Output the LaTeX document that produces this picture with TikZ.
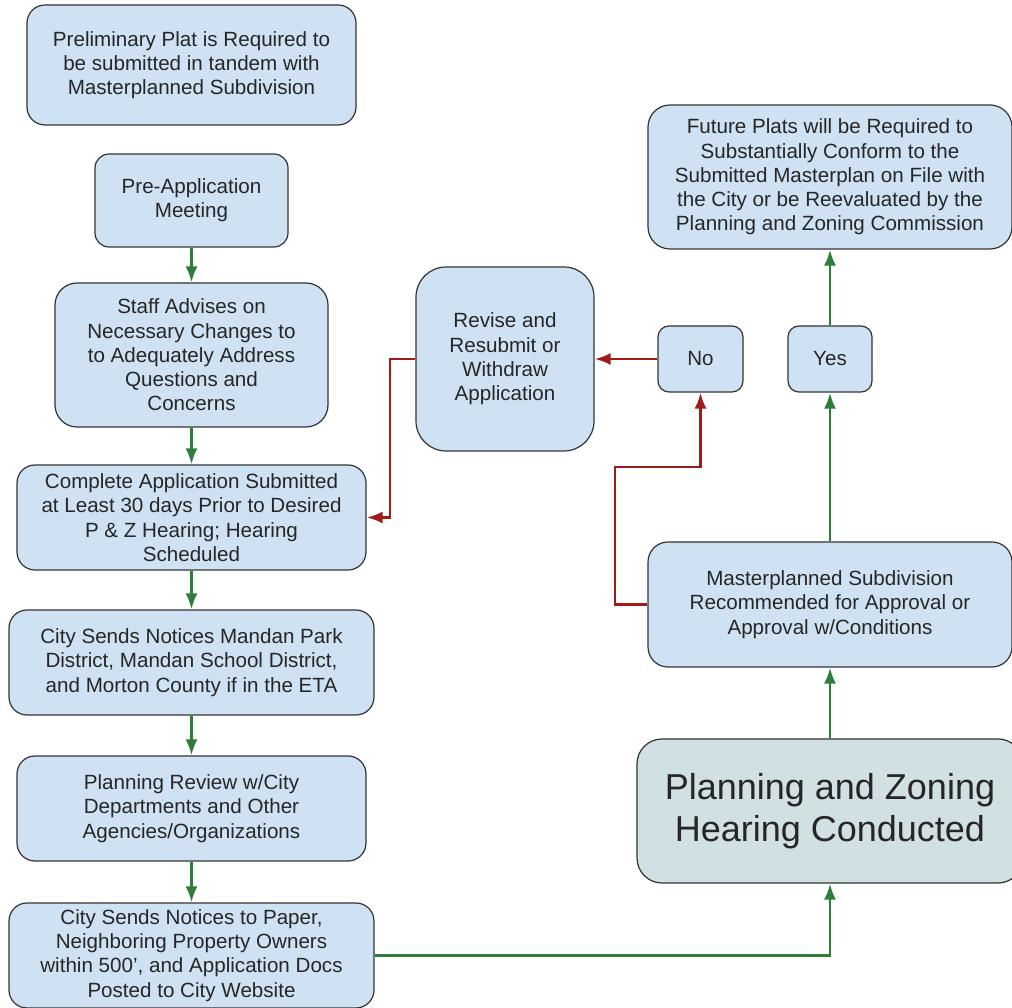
\documentclass[tikz,border=0pt]{standalone}
\usepackage[x11names, svgnames, rgb]{xcolor}
\usepackage{fontspec}
\setmainfont{Liberation Sans}
\usetikzlibrary{arrows.meta,shapes}

\definecolor{boxblue}{HTML}{CFE2F3}
\definecolor{boxteal}{HTML}{D0E0E3}
\definecolor{goline}{HTML}{2E7D3A}
\definecolor{noline}{HTML}{A11B1B}

\begin{document}
\begin{tikzpicture}[>={Latex[length=16bp,width=12bp]}, line join=miter, line width=2.7bp,
  box/.style={draw=black!80, line width=1.2bp, fill=boxblue, rounded corners=18bp, align=center, inner sep=0pt, text=black!85, font=\fontsize{20.6bp}{24.3bp}\selectfont},
  yesarrow/.style={->, draw=goline},
  noarrow/.style={->, draw=noline}]
%%
\useasboundingbox (0bp,0bp) rectangle (1012bp,1008bp);
\node (Prelim) at (191.5bp,943bp) [box, minimum width=329bp, minimum height=120bp] {Preliminary Plat is Required to\\be submitted in tandem with\\Masterplanned Subdivision};
  \node (PreApp) at (191.5bp,807.5bp) [box, minimum width=193bp, minimum height=93bp, rounded corners=14bp] {Pre-Application\\Meeting};
  \node (Staff) at (191.5bp,653bp) [box, minimum width=273bp, minimum height=144bp, rounded corners=22bp] {Staff Advises on\\Necessary Changes to\\to Adequately Address\\Questions and\\Concerns};
  \node (Complete) at (191.5bp,490.5bp) [box, minimum width=349bp, minimum height=105bp] {Complete Application Submitted\\at Least 30 days Prior to Desired\\P \& Z Hearing; Hearing\\Scheduled};
  \node (Mandan) at (191.5bp,345.5bp) [box, minimum width=365bp, minimum height=105bp] {City Sends Notices Mandan Park\\District, Mandan School District,\\and Morton County if in the ETA};
  \node (Review) at (191.5bp,199.5bp) [box, minimum width=349bp, minimum height=105bp] {Planning Review w/City\\Departments and Other\\Agencies/Organizations};
  \node (Paper) at (191.5bp,52.5bp) [box, minimum width=365bp, minimum height=105bp] {City Sends Notices to Paper,\\Neighboring Property Owners\\within 500’, and Application Docs\\Posted to City Website};
%
  \node (Revise) at (505bp,649bp) [box, minimum width=178bp, minimum height=184bp, rounded corners=30bp] {Revise and\\Resubmit or\\Withdraw\\Application};
  \node (No) at (700.5bp,649bp) [box, minimum width=85bp, minimum height=66bp, rounded corners=11bp] {No};
  \node (Yes) at (830bp,649bp) [box, minimum width=84bp, minimum height=66bp, rounded corners=11bp] {Yes};
  \node (Future) at (830bp,831bp) [box, minimum width=364bp, minimum height=144bp, rounded corners=22bp] {Future Plats will be Required to\\Substantially Conform to the\\Submitted Masterplan on File with\\the City or be Reevaluated by the\\Planning and Zoning Commission};
  \node (Master) at (830bp,403.5bp) [box, minimum width=364bp, minimum height=125bp, rounded corners=20bp] {Masterplanned Subdivision\\Recommended for Approval or\\Approval w/Conditions};
  \node (PZ) at (830bp,197bp) [box, fill=boxteal, minimum width=386bp, minimum height=144bp, rounded corners=25bp, font=\fontsize{36bp}{42bp}\selectfont] {Planning and Zoning\\Hearing Conducted};
%
  \coordinate (bendNo) at (615bp,541bp);
  \coordinate (bendRevise) at (390bp,600bp);
%
  \draw [yesarrow] (PreApp) -- (Staff);
  \draw [yesarrow] (Staff) -- (Complete);
  \draw [yesarrow] (Complete) -- (Mandan);
  \draw [yesarrow] (Mandan) -- (Review);
  \draw [yesarrow] (Review) -- (Paper);
  \draw [yesarrow] (Paper.east) -| (PZ.south);
  \draw [yesarrow] (PZ) -- (Master);
  \draw [yesarrow] (Master) -- (Yes);
  \draw [yesarrow] (Yes) -- (Future);
  \draw [noarrow] (Master.west) -| (bendNo) -| (No.south);
  \draw [noarrow] (No) -- (Revise);
  \draw [noarrow] (Revise.west) -| (bendRevise) |- (Complete.east);
%
\end{tikzpicture}
\end{document}
